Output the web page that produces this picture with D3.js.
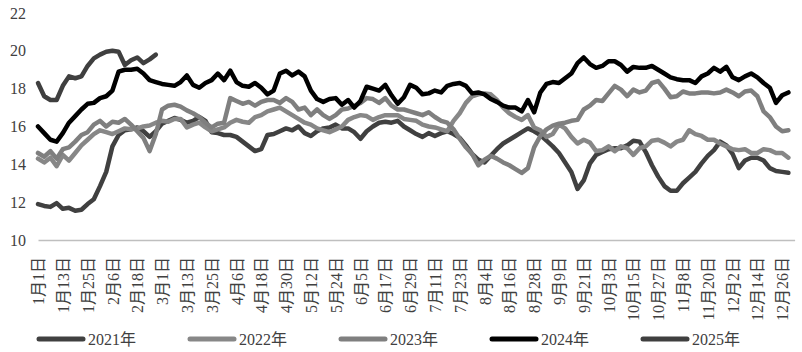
<!DOCTYPE html>
<html>
<head>
<meta charset="utf-8">
<script src="https://cdn.jsdelivr.net/npm/d3@7"></script>
<style>
body { margin: 0; background: #fff; }
text { font-family: "Liberation Serif", "Noto Sans CJK SC", serif; }
</style>
</head>
<body>
<div id="graph"></div>
<script>
// day-of-year grid (every 3 days) that the series values are read at
const sampleDays = d3.range(0, 364, 3);

const tickDays = [0,12,24,36,48,60,72,84,96,108,120,132,144,156,168,180,192,204,216,228,240,252,264,276,288,300,312,324,336,348,360];
const tickLabels = ["1月1日","1月13日","1月25日","2月6日","2月18日","3月1日","3月13日","3月25日","4月6日","4月18日","4月30日","5月12日","5月24日","6月5日","6月17日","6月29日","7月11日","7月23日","8月4日","8月16日","8月28日","9月9日","9月21日","10月3日","10月15日","10月27日","11月8日","11月20日","12月2日","12月14日","12月26日"];
const yTicks = [10,12,14,16,18,20,22];

const s2021 = [11.9,11.8,11.75,11.95,11.65,11.7,11.55,11.6,11.9,12.15,
  12.85,13.6,14.95,15.55,15.8,15.85,15.95,15.75,15.45,15.75,
  16.15,16.3,16.45,16.35,16.2,16.3,16.5,16.3,15.7,15.65,
  15.55,15.55,15.45,15.2,14.95,14.7,14.8,15.55,15.6,15.75,
  15.9,15.8,16.0,15.65,15.5,15.75,15.9,15.95,16.1,15.9,
  15.9,15.7,15.35,15.75,16.0,16.2,16.25,16.2,16.3,16.0,
  15.8,15.6,15.45,15.65,15.5,15.65,15.75,15.6,15.4,15.0,
  14.55,14.25,14.1,14.45,14.8,15.1,15.3,15.5,15.7,15.9,
  15.75,15.55,15.25,14.95,14.6,14.1,13.6,12.7,13.15,14.05,
  14.5,14.65,14.8,14.85,14.85,15.0,15.25,15.2,14.65,13.95,
  13.35,12.85,12.6,12.6,13.0,13.3,13.6,14.05,14.45,14.75,
  15.2,15.0,14.55,13.8,14.2,14.35,14.35,14.2,13.8,13.65,
  13.6,13.55];

const s2022 = [14.3,14.1,14.35,13.9,14.5,14.2,14.6,15.0,15.3,15.6,
  15.8,15.7,15.6,15.75,15.9,15.85,15.9,16.0,16.05,16.2,
  16.3,16.25,16.4,16.4,15.95,16.1,16.2,15.95,15.75,15.85,
  15.95,16.2,16.35,16.25,16.2,16.5,16.6,16.8,16.9,17.0,
  16.8,16.6,16.4,16.2,16.1,15.9,15.8,15.7,15.85,16.0,
  16.35,16.5,16.6,16.55,16.35,16.5,16.6,16.6,16.6,16.4,
  16.35,16.3,16.1,16.0,15.95,15.85,15.75,16.3,16.7,17.25,
  17.6,17.7,17.75,17.7,17.4,17.0,16.7,16.5,16.35,16.6,
  15.95,15.8,15.45,15.6,16.1,15.9,15.45,15.1,15.3,15.15,
  14.7,14.75,14.95,14.7,14.95,14.85,14.5,14.85,14.95,15.25,
  15.3,15.15,14.95,15.2,15.3,15.8,15.6,15.5,15.3,15.3,
  15.1,14.95,14.8,14.75,14.8,14.6,14.6,14.8,14.75,14.6,
  14.6,14.35];

const s2023 = [14.6,14.4,14.7,14.3,14.8,14.9,15.2,15.55,15.7,16.1,
  16.3,16.0,16.25,16.2,16.4,16.1,15.75,15.4,14.7,15.6,
  16.9,17.1,17.15,17.05,16.85,16.7,16.5,16.2,15.95,16.15,
  16.2,17.5,17.35,17.2,17.3,17.1,17.3,17.4,17.4,17.25,
  17.5,17.3,16.9,17.0,16.6,16.9,16.6,16.4,16.6,16.9,
  16.95,17.1,17.25,17.5,17.45,17.25,17.5,17.1,16.9,16.9,
  16.8,16.7,16.6,16.75,16.5,16.3,16.2,15.85,15.35,14.9,
  14.55,13.95,14.25,14.45,14.3,14.1,13.95,13.75,13.55,13.8,
  14.9,15.5,15.85,16.05,16.15,16.2,16.3,16.35,16.9,17.1,
  17.4,17.35,17.75,18.15,17.95,17.6,17.95,17.8,17.9,18.3,
  18.4,18.0,17.55,17.6,17.85,17.75,17.75,17.8,17.8,17.75,
  17.8,17.95,17.8,17.6,17.85,17.9,17.6,16.8,16.5,16.0,
  15.75,15.8];

const s2024 = [16.0,15.65,15.3,15.2,15.65,16.2,16.55,16.9,17.2,17.25,
  17.5,17.6,17.9,18.9,19.0,19.0,19.05,18.8,18.45,18.35,
  18.25,18.2,18.15,18.35,18.7,18.2,18.05,18.3,18.45,18.8,
  18.45,18.95,18.35,18.15,18.1,18.3,18.05,17.7,17.9,18.8,
  18.95,18.7,18.9,18.65,17.9,17.45,17.3,17.45,17.5,17.15,
  17.4,17.0,17.35,18.1,18.0,17.9,18.2,17.65,17.2,17.55,
  18.2,18.05,17.7,17.75,17.9,17.8,18.15,18.25,18.3,18.15,
  17.75,17.8,17.7,17.45,17.3,17.1,17.0,17.0,16.8,17.4,
  16.75,17.8,18.25,18.35,18.3,18.55,18.8,19.35,19.65,19.3,
  19.1,19.2,19.45,19.45,19.25,18.9,19.15,19.1,19.1,19.2,
  19.0,18.8,18.6,18.5,18.45,18.45,18.3,18.65,18.8,19.1,
  18.9,19.15,18.6,18.45,18.65,18.8,18.6,18.3,18.05,17.25,
  17.65,17.8];

const s2025 = [18.3,17.6,17.4,17.4,18.15,18.65,18.55,18.65,19.2,19.6,
  19.8,19.95,20.0,19.95,19.25,19.5,19.65,19.35,19.55,19.8];

const seriesNames = ["2021年","2022年","2023年","2024年","2025年"];
const seriesValues = [s2021, s2022, s2023, s2024, s2025];
const seriesColors = ["#404040","#878787","#7f7f7f","#000000","#3f3f3f"];

const width = 802, height = 352;

const graph = d3.select("div#graph")
	.append("svg")
	.attr("width", width)
	.attr("height", height);

const xScale = d3.scaleLinear()
	.domain([0, 366])
	.range([38, 794.6]);

const yScale = d3.scaleLinear()
	.domain([10, 22])
	.range([240, 13]);

// y axis: labels only
const yAxis = d3.axisLeft(yScale)
	.tickValues(yTicks)
	.tickSize(0)
	.tickPadding(12);

const gy = graph.append("g")
	.attr("class", "y axis")
	.attr("transform", `translate(${xScale.range()[0]}, 0)`)
	.call(yAxis);
gy.select(".domain").remove();
gy.selectAll("text")
	.style("font-size", "16px")
	.attr("fill", "#404040");

// x axis: grey base line and vertical date labels
const xAxis = d3.axisBottom(xScale)
	.tickValues(tickDays)
	.tickFormat((d, i) => tickLabels[i])
	.tickSize(0)
	.tickSizeOuter(0);

const gx = graph.append("g")
	.attr("class", "x axis")
	.attr("transform", `translate(0, ${yScale(10)})`)
	.call(xAxis);
gx.select(".domain")
	.attr("stroke", "#bfbfbf")
	.attr("stroke-width", 1.5);
gx.selectAll("text")
	.style("font-size", "16px")
	.attr("fill", "#404040")
	.attr("text-anchor", "end")
	.attr("x", -17)
	.attr("y", 0)
	.attr("dy", "0.35em")
	.attr("transform", "rotate(-90)");  // read bottom to top

const line = d3.line()
	.x((d, i) => xScale(sampleDays[i]))
	.y(d => yScale(d));

for (let i = 0; i < seriesValues.length; i++) {
	graph.append("path").datum(seriesValues[i])
		.attr("fill", "none")
		.attr("stroke", seriesColors[i])
		.attr("stroke-width", 4.5)
		.attr("stroke-linejoin", "round")
		.attr("stroke-linecap", "round")
		.attr("d", line);
}

// legend along the bottom
const legend = graph.selectAll(".legend")
	.data(seriesNames)
	.enter()
	.append("g")
	.attr("class", "legend")
	.attr("transform", (d, i) => `translate(${38 + i * 151}, 339)`);

legend.append("line")
	.attr("x1", 1)
	.attr("x2", 45)
	.attr("stroke", (d, i) => seriesColors[i])
	.attr("stroke-width", 5)
	.attr("stroke-linecap", "round");

legend.append("text")
	.attr("x", 50)
	.attr("dy", "0.35em")
	.style("font-size", "16px")
	.attr("fill", "#404040")
	.text(d => d);
</script>
</body>
</html>
